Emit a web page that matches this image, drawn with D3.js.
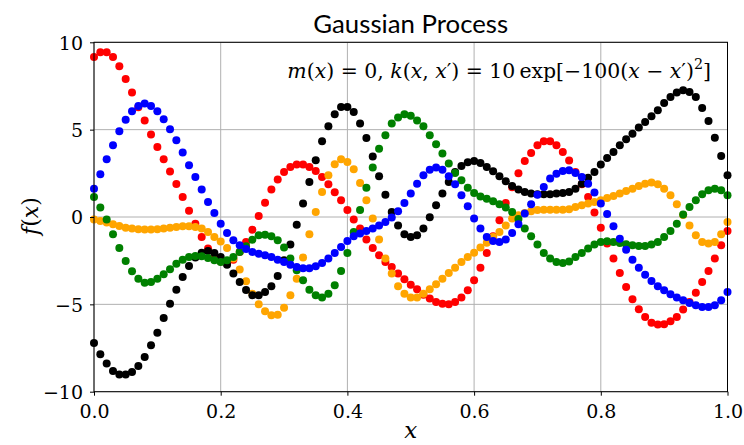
<!DOCTYPE html>
<html><head><meta charset="utf-8">
<script src="https://cdn.jsdelivr.net/npm/d3@7"></script>
<style>
body{margin:0;background:#fff}
svg{display:block}
.serif{font-family:"DejaVu Serif"}
.sans{font-family:Lato,"Open Sans",sans-serif}
</style>
</head><body>
<svg id="chart" width="744" height="445"></svg>
<script>
// sampling grid: 101 evenly spaced inputs on [0, 1]
const xGrid = d3.range(0, 101).map(i => i / 100);

const redValues = [9.16,9.43,9.43,9.16,8.63,7.90,7.12,6.28,5.52,4.72,
4.01,3.30,2.60,1.89,1.14,0.36,-0.38,-1.14,-1.81,-2.29,
-2.55,-2.62,-2.45,-2.00,-1.43,-0.73,0.06,0.82,1.57,2.14,
2.58,2.86,3.00,3.00,2.86,2.63,2.29,1.87,1.41,0.96,
0.40,-0.14,-0.66,-1.29,-1.77,-2.19,-2.58,-2.86,-3.24,-3.57,
-3.88,-4.14,-4.45,-4.67,-4.86,-4.96,-5.00,-4.86,-4.61,-4.20,
-3.62,-2.90,-2.06,-1.10,-0.19,0.80,1.70,2.50,3.21,3.66,
4.10,4.33,4.33,4.10,3.72,3.23,2.58,1.87,1.14,0.26,
-0.61,-1.52,-2.38,-3.21,-4.01,-4.71,-5.28,-5.72,-6.05,-6.16,
-6.14,-5.97,-5.72,-5.30,-4.86,-4.33,-3.72,-3.09,-2.38,-1.62,
-0.80];

const blueValues = [1.62,2.44,3.30,4.10,4.91,5.57,6.05,6.36,6.49,6.36,
6.05,5.59,5.02,4.39,3.69,2.96,2.29,1.57,0.86,0.23,
-0.38,-0.92,-1.33,-1.62,-1.83,-2.00,-2.10,-2.19,-2.29,-2.44,
-2.58,-2.73,-2.86,-2.94,-2.94,-2.82,-2.63,-2.38,-2.06,-1.72,
-1.37,-1.10,-0.95,-0.80,-0.66,-0.49,-0.29,-0.03,0.33,0.80,
1.34,1.91,2.39,2.71,2.83,2.71,2.33,1.87,1.24,0.61,
-0.08,-0.66,-1.14,-1.37,-1.43,-1.29,-0.92,-0.42,0.20,0.73,
1.28,1.72,2.20,2.48,2.63,2.67,2.52,2.29,1.91,1.40,
0.77,0.17,-0.53,-1.24,-1.87,-2.44,-2.90,-3.30,-3.66,-3.97,
-4.20,-4.42,-4.61,-4.77,-4.92,-5.05,-5.15,-5.15,-5.05,-4.77,
-4.29];

const blackValues = [-7.21,-7.86,-8.39,-8.81,-9.02,-9.02,-8.87,-8.53,-8.01,-7.34,
-6.62,-5.78,-4.96,-4.16,-3.43,-2.80,-2.32,-2.04,-1.95,-2.06,
-2.29,-2.73,-3.24,-3.72,-4.18,-4.48,-4.48,-4.29,-3.97,-3.38,
-2.48,-1.58,-0.44,0.77,2.00,3.25,4.33,5.19,5.88,6.30,
6.30,6.01,5.35,4.52,3.47,2.33,1.28,0.29,-0.48,-0.99,
-1.14,-1.05,-0.66,-0.02,0.67,1.34,2.00,2.58,2.92,3.13,
3.21,3.09,2.86,2.62,2.33,2.04,1.78,1.57,1.43,1.34,
1.30,1.30,1.30,1.34,1.38,1.43,1.62,1.91,2.25,2.58,
3.00,3.38,3.72,4.10,4.45,4.77,5.12,5.44,5.76,6.11,
6.53,6.87,7.12,7.25,7.16,6.87,6.24,5.50,4.54,3.49,
2.39];

const greenValues = [1.14,0.54,-0.15,-0.99,-1.77,-2.52,-3.11,-3.53,-3.76,-3.72,
-3.53,-3.28,-2.99,-2.67,-2.44,-2.29,-2.23,-2.25,-2.35,-2.48,
-2.58,-2.48,-2.29,-2.00,-1.68,-1.30,-1.05,-1.01,-1.10,-1.33,
-1.75,-2.38,-3.05,-3.62,-4.16,-4.48,-4.61,-4.39,-3.91,-3.09,
-2.06,-0.86,0.40,1.68,2.83,3.91,4.68,5.35,5.69,5.88,
5.80,5.53,5.19,4.68,4.16,3.63,3.06,2.52,2.10,1.68,
1.37,1.18,1.05,0.90,0.73,0.54,0.29,-0.12,-0.66,-1.10,
-1.58,-2.06,-2.38,-2.58,-2.63,-2.55,-2.29,-2.06,-1.81,-1.58,
-1.43,-1.39,-1.43,-1.49,-1.56,-1.62,-1.66,-1.66,-1.58,-1.43,
-1.14,-0.80,-0.38,0.15,0.57,0.96,1.30,1.53,1.62,1.53,
1.24];

const orangeValues = [-0.15,-0.23,-0.32,-0.42,-0.51,-0.61,-0.66,-0.70,-0.72,-0.72,
-0.70,-0.66,-0.61,-0.57,-0.53,-0.53,-0.57,-0.66,-0.86,-1.14,
-1.40,-1.77,-2.38,-3.01,-3.68,-4.39,-5.00,-5.40,-5.63,-5.59,
-5.19,-4.48,-3.53,-2.32,-0.99,0.29,1.43,2.39,3.02,3.30,
3.15,2.73,1.95,0.96,-0.08,-1.29,-2.38,-3.24,-3.97,-4.39,
-4.61,-4.61,-4.39,-4.14,-3.85,-3.53,-3.21,-2.90,-2.58,-2.29,
-2.04,-1.75,-1.47,-1.14,-0.86,-0.48,-0.09,0.10,0.23,0.33,
0.40,0.42,0.42,0.42,0.42,0.45,0.57,0.67,0.77,0.86,
0.96,1.09,1.20,1.34,1.49,1.62,1.78,1.91,1.97,1.87,
1.62,1.24,0.73,0.12,-0.48,-1.05,-1.43,-1.52,-1.43,-0.99,
-0.29];

const seriesNames = ["red", "orange", "black", "green", "blue"];
const seriesColors = ["#ff0000", "#ffa500", "#000000", "#008000", "#0000ff"];
const seriesData = [redValues, orangeValues, blackValues, greenValues, blueValues];

const xTicks = [0, 0.2, 0.4, 0.6, 0.8, 1.0];
const yTicks = [-10, -5, 0, 5, 10];
const titleText = "Gaussian Process";

const svg = d3.select("#chart");
const L = 94, R = 727.5, T = 42.3, B = 391.7;
const x = d3.scaleLinear().domain([0, 1]).range([L, R]);
const y = d3.scaleLinear().domain([-10, 10]).range([B, T]);

// grid
const grid = svg.append("g");
grid.selectAll("line.gx").data(xTicks).join("line")
  .attr("x1", d => x(d)).attr("x2", d => x(d)).attr("y1", T).attr("y2", B)
  .attr("stroke", "#b0b0b0").attr("stroke-width", 1);
grid.selectAll("line.gy").data(yTicks).join("line")
  .attr("x1", L).attr("x2", R).attr("y1", d => y(d)).attr("y2", d => y(d))
  .attr("stroke", "#b0b0b0").attr("stroke-width", 1);

// points
seriesData.forEach((vals, k) => {
  svg.append("g").selectAll("circle").data(vals).join("circle")
    .attr("cx", (d, i) => x(xGrid[i]))
    .attr("cy", d => y(d))
    .attr("r", 4)
    .attr("fill", seriesColors[k]);
});

// frame
svg.append("rect").attr("x", L).attr("y", T).attr("width", R - L).attr("height", B - T)
  .attr("fill", "none").attr("stroke", "#000").attr("stroke-width", 1);

const xAxis = svg.append("g").attr("transform", `translate(0,${B})`)
  .call(d3.axisBottom(x).tickValues(xTicks).tickFormat(d3.format(".1f")).tickSize(4).tickPadding(7));
const yAxis = svg.append("g").attr("transform", `translate(${L},0)`)
  .call(d3.axisLeft(y).tickValues(yTicks).tickFormat(d3.format("d")).tickSize(4).tickPadding(7));
[xAxis, yAxis].forEach(a => {
  a.attr("font-family", null).attr("font-size", null);
  a.select(".domain").remove();
  a.selectAll(".tick line").attr("stroke", "#000").attr("stroke-width", 1);
  a.selectAll("text").classed("serif", true).style("font-size", "19px").attr("fill", "#000");
});
xAxis.selectAll("text").attr("dy", "0.78em");
yAxis.selectAll("text").attr("dy", "0.36em");

// title
const title = svg.append("text").attr("class", "sans").attr("x", (L + R) / 2).attr("y", 33)
  .attr("text-anchor", "middle").style("font-size", "25px").attr("fill", "#000").text(titleText);
{
  const w = title.node().getComputedTextLength();
  title.style("font-size", (25 * 195 / w) + "px");
}

// axis labels
svg.append("text").attr("class", "serif").attr("x", (L + R) / 2).attr("y", 438)
  .attr("text-anchor", "middle").style("font-style", "italic")
  .style("font-size", "23px").text("x");
const fl = svg.append("text").attr("class", "serif").attr("transform", "translate(38,216) rotate(-90)")
  .attr("text-anchor", "middle").style("font-size", "22px");
fl.append("tspan").style("font-style", "italic").text("f");
fl.append("tspan").text("(");
fl.append("tspan").style("font-style", "italic").text("x");
fl.append("tspan").text(")");

// annotation
const ann = svg.append("text").attr("class", "serif").attr("x", 711).attr("y", 78)
  .attr("text-anchor", "end").style("font-size", "20px").attr("fill", "#000");
const parts = [
  ["m", 1], ["(", 0], ["x", 1], [") = 0, ", 0], ["k", 1], ["(", 0], ["x", 1], [", ", 0], ["x", 1], ["\u2032", 0],
  [") = 10\u2009exp[\u2212100(", 0], ["x", 1], [" \u2212 ", 0], ["x", 1], ["\u2032", 0], [")", 0]
];
parts.forEach(([t, it]) => {
  const s = ann.append("tspan").text(t);
  if (it) s.style("font-style", "italic");
});
ann.append("tspan").attr("dy", -9).style("font-size", "0.7em").text("2");
ann.append("tspan").attr("dy", 9).text("]");
{
  const w = ann.node().getComputedTextLength();
  ann.style("font-size", (20 * 424 / w) + "px");
}
</script>
</body></html>
